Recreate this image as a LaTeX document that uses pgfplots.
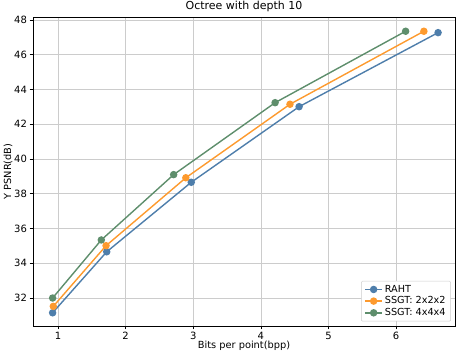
\documentclass[border=0pt]{standalone}
\usepackage{pgfplots}
\pgfplotsset{compat=1.18}
\usepackage{fontspec}
\setmainfont{DejaVu Sans}
\definecolor{cblue}{HTML}{4E7EAB}
\definecolor{corange}{HTML}{FD9A2E}
\definecolor{cgreen}{HTML}{5E8E6C}
\begin{document}
\begin{tikzpicture}
\useasboundingbox (-33pt,-30pt) rectangle (425pt,326pt);
\begin{axis}[
  scale only axis, width=422pt, height=309pt,
  xmin=0.63, xmax=6.87, ymin=30.39, ymax=48.17,
  xtick={1,2,3,4,5,6}, ytick={32,34,36,38,40,42,44,46,48},
  tick align=outside, tick pos=left,
  major tick length=3.5pt,
  every tick/.style={black, line width=0.6pt},
  grid=major, grid style={gray!40, line width=0.7pt},
  axis line style={line width=0.8pt},
  font=\fontsize{10pt}{12pt}\selectfont,
  ticklabel style={font=\fontsize{10pt}{12pt}\selectfont},
  xticklabel style={yshift=1pt},
  yticklabel style={xshift=1pt},
  /pgf/number format/assume math mode=true,
  title={Octree with depth 10},
  title style={font=\fontsize{11pt}{13pt}\selectfont, yshift=-4pt},
  xlabel={Bits per point(bpp)}, ylabel={Y PSNR(dB)},
  xlabel style={font=\fontsize{9.8pt}{11pt}\selectfont, yshift=5pt},
  ylabel style={font=\fontsize{9.8pt}{11pt}\selectfont, yshift=-5pt},
  legend style={at={(rel axis cs:0.99,0.015)}, anchor=south east,
    font=\fontsize{9.7pt}{11pt}\selectfont, draw=gray!40, rounded corners=1pt,
    row sep=-1pt},
  legend cell align=left,
  every axis plot/.append style={line width=1.4pt, mark=*, mark size=3pt},
]
\addplot[color=cblue, mark options={fill=cblue}] coordinates {
(0.92,31.15) (1.72,34.66) (2.97,38.66) (4.565,43.01) (6.62,47.27)};
\addlegendentry{RAHT}
\addplot[color=corange, mark options={fill=corange}] coordinates {
(0.93,31.52) (1.71,35.01) (2.89,38.92) (4.43,43.15) (6.41,47.35)};
\addlegendentry{SSGT: 2x2x2}
\addplot[color=cgreen, mark options={fill=cgreen}] coordinates {
(0.92,32.0) (1.64,35.34) (2.71,39.10) (4.21,43.24) (6.14,47.35)};
\addlegendentry{SSGT: 4x4x4}
\end{axis}
\end{tikzpicture}
\end{document}
